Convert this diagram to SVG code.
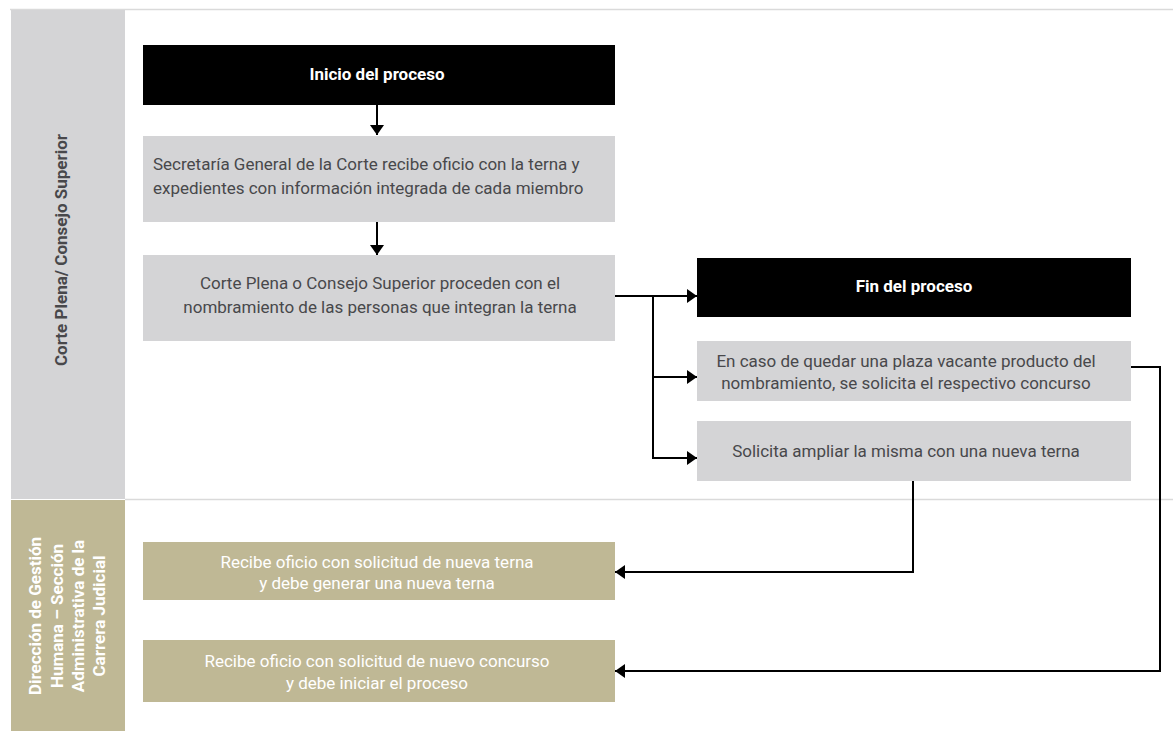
<svg xmlns="http://www.w3.org/2000/svg" width="1173" height="731" viewBox="0 0 1173 731">
<defs>
<marker id="ah" viewBox="0 0 10 14" refX="10" refY="7" markerWidth="10" markerHeight="14" markerUnits="userSpaceOnUse" orient="auto">
<path d="M0,0 L10,7 L0,14 Z" fill="#000"/>
</marker>
<style>
.t{font-family:Roboto,"Liberation Sans",sans-serif;font-size:17px;font-weight:normal;}
.dark{fill:#48484b;}
.wh{fill:#ffffff;}
.b{font-weight:bold;}
.gray{fill:#d4d4d6;}
.tan{fill:#bfb895;}
.blk{fill:#000;}
.ln{stroke:#000;stroke-width:2;fill:none;}
.sep{stroke:#dadada;stroke-width:1.5;fill:none;}
</style>
</defs>
<rect width="1173" height="731" fill="#fff"/>
<g id="lanes">
<line class="sep" x1="10" y1="9.5" x2="1173" y2="9.5"/>
<line class="sep" x1="125" y1="499.5" x2="1173" y2="499.5"/>
<rect class="gray" x="11" y="10" width="114" height="489"/>
<rect class="tan" x="11" y="500" width="114" height="231"/>
<text class="t b dark" font-size="16.7" transform="translate(67,250) rotate(-90)" text-anchor="middle">Corte Plena/ Consejo Superior</text>
<g transform="translate(0,616)">
<text class="t b wh" font-size="16" text-anchor="middle" transform="translate(41,0) rotate(-90)">Dirección de Gestión</text>
<text class="t b wh" font-size="16" text-anchor="middle" transform="translate(63,0) rotate(-90)">Humana – Sección</text>
<text class="t b wh" font-size="16" text-anchor="middle" transform="translate(84,0) rotate(-90)">Administrativa de la</text>
<text class="t b wh" font-size="16" text-anchor="middle" transform="translate(105,0) rotate(-90)">Carrera Judicial</text>
</g>
</g>
<g id="n-inicio">
<rect class="blk" x="143" y="45" width="472" height="60"/>
<text class="t b wh" font-size="17.6" x="377" y="80" text-anchor="middle">Inicio del proceso</text>
</g>
<g id="n-secretaria">
<rect class="gray" x="143" y="136" width="472" height="86"/>
<text class="t dark" x="153" y="170">Secretaría General de la Corte recibe oficio con la terna y</text>
<text class="t dark" x="153" y="194">expedientes con información integrada de cada miembro</text>
</g>
<g id="n-corte">
<rect class="gray" x="143" y="255" width="472" height="86"/>
<text class="t dark" x="380" y="289" text-anchor="middle">Corte Plena o Consejo Superior proceden con el</text>
<text class="t dark" x="380" y="313" text-anchor="middle">nombramiento de las personas que integran la terna</text>
</g>
<g id="n-fin">
<rect class="blk" x="697" y="258" width="434" height="59"/>
<text class="t b wh" font-size="17.6" x="914" y="292" text-anchor="middle">Fin del proceso</text>
</g>
<g id="n-vacante">
<rect class="gray" x="697" y="341" width="434" height="60"/>
<text class="t dark" x="906" y="367" text-anchor="middle">En caso de quedar una plaza vacante producto del</text>
<text class="t dark" x="906" y="389" text-anchor="middle">nombramiento, se solicita el respectivo concurso</text>
</g>
<g id="n-ampliar">
<rect class="gray" x="697" y="421" width="434" height="60"/>
<text class="t dark" x="906" y="457" text-anchor="middle">Solicita ampliar la misma con una nueva terna</text>
</g>
<g id="n-nuevaterna">
<rect class="tan" x="143" y="542" width="472" height="58"/>
<text class="t wh" x="377" y="568" text-anchor="middle">Recibe oficio con solicitud de nueva terna</text>
<text class="t wh" x="377" y="589" text-anchor="middle">y debe generar una nueva terna</text>
</g>
<g id="n-concurso">
<rect class="tan" x="143" y="640" width="472" height="62"/>
<text class="t wh" x="377" y="667" text-anchor="middle">Recibe oficio con solicitud de nuevo concurso</text>
<text class="t wh" x="377" y="689" text-anchor="middle">y debe iniciar el proceso</text>
</g>
<g id="connectors">
<line class="ln" x1="377" y1="105" x2="377" y2="135" marker-end="url(#ah)"/>
<line class="ln" x1="377" y1="222" x2="377" y2="255" marker-end="url(#ah)"/>
<line class="ln" x1="615" y1="296" x2="697" y2="296" marker-end="url(#ah)"/>
<polyline class="ln" points="653,296 653,458 697,458" marker-end="url(#ah)"/>
<line class="ln" x1="653" y1="377" x2="697" y2="377" marker-end="url(#ah)"/>
<polyline class="ln" points="913,481 913,572 615,572" marker-end="url(#ah)"/>
<polyline class="ln" points="1131,367 1160,367 1160,671 615,671" marker-end="url(#ah)"/>
</g>
</svg>
